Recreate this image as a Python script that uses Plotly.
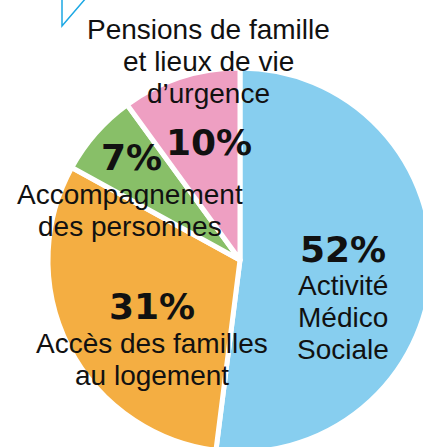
import plotly.graph_objects as go

# ---- data ----
categories = ["Activité Médico Sociale", "Accès des familles au logement",
              "Accompagnement des personnes", "Pensions de famille et lieux de vie d’urgence"]
values = [52, 31, 7, 10]
colors = ["#87CEEF", "#F4AE42", "#88BF68", "#EE9FC2"]
label_lines = [["Activité", "Médico", "Sociale"],
               ["Accès des familles", "au logement"],
               ["Accompagnement", "des personnes"],
               ["Pensions de famille", "et lieux de vie", "d’urgence"]]

# ---- layout helpers (pixel positions of label blocks) ----
W, H = 440, 456
def px(x):
    return x / W
def py(y):
    return 1 - y / H

# percentage positions and first-line positions of label text
pct_pos = [(343, 249), (152, 306), (131, 157), (209, 142)]
lbl_pos = [(343, 285), (152, 343), (130, 194), (208, 29)]
line_gap = 32

fig = go.Figure(go.Pie(
    labels=categories, values=values, sort=False, direction="clockwise",
    rotation=0, textinfo="none", hoverinfo="label+percent",
    marker=dict(colors=colors, line=dict(color="white", width=5)),
    domain=dict(x=[px(48), px(432)], y=[py(452), py(68)]),
    showlegend=False,
))

ann = []
for v, (x, y) in zip(values, pct_pos):
    ann.append(dict(x=px(x), y=py(y), xref="paper", yref="paper", text=f"<b>{v}%</b>",
                    showarrow=False, xanchor="center", yanchor="middle",
                    font=dict(family="DejaVu Sans", size=36, color="#111")))
for lines, (x, y) in zip(label_lines, lbl_pos):
    for i, t in enumerate(lines):
        ann.append(dict(x=px(x), y=py(y + i * line_gap), xref="paper", yref="paper", text=t,
                        showarrow=False, xanchor="center", yanchor="middle",
                        font=dict(family="Liberation Sans", size=28, color="#111")))

fig.update_layout(
    width=W, height=H, margin=dict(l=0, r=0, t=0, b=0),
    paper_bgcolor="white", plot_bgcolor="white",
    annotations=ann,
    shapes=[dict(type="path", xref="paper", yref="paper",
                 path=f"M {px(62)} {py(-2)} L {px(62)} {py(26)} L {px(86)} {py(-2)}",
                 line=dict(color="#1CA8E4", width=1.5))],
)

fig.write_html("out.html", config={"displayModeBar": False}, post_script=(
    "document.body.style.margin='0';document.body.style.overflow='hidden';"
    "document.documentElement.style.overflow='hidden';"))
